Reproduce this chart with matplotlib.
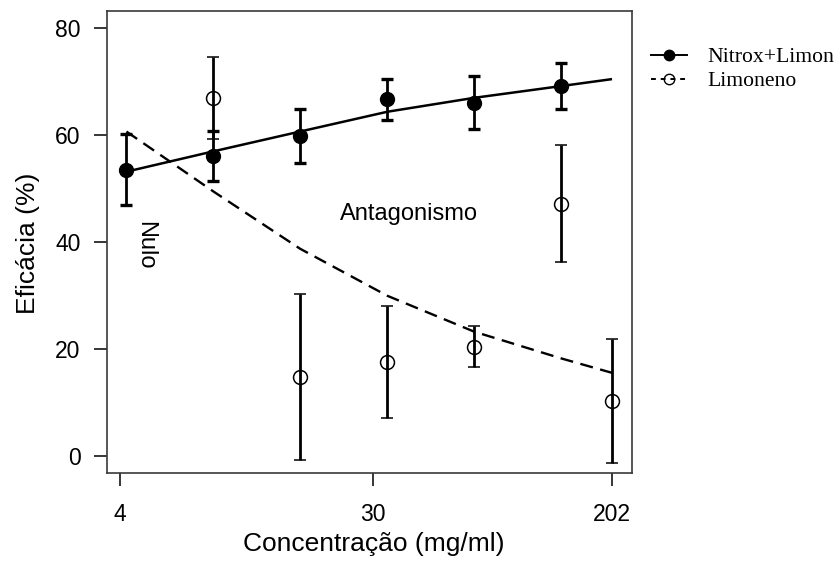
import matplotlib
matplotlib.use("Agg")
import matplotlib.pyplot as plt
from matplotlib.lines import Line2D

plt.rcParams["font.family"] = ["Liberation Sans", "DejaVu Sans"]

# Nitrox + Limoneno mixture: mean efficacy and error
nitrox_conc = [4.21, 8.42, 16.8, 33.7, 67.3, 134.7]
nitrox_eff = [53.6, 56.1, 59.9, 66.7, 66.1, 69.2]
nitrox_err = [6.6, 4.7, 5.0, 3.8, 4.9, 4.35]

# Limoneno alone
limon_conc = [8.42, 16.8, 33.7, 67.3, 134.7, 202]
limon_eff = [67.0, 14.8, 17.6, 20.5, 47.2, 10.3]
limon_err = [7.7, 15.5, 10.5, 3.9, 10.9, 11.6]

# Fitted response curves
fit_conc = [4.21, 8.42, 16.8, 33.7, 67.3, 134.7, 202]
nitrox_fit = [53.2, 57.0, 60.7, 64.4, 67.0, 69.2, 70.5]
limon_fit = [60.7, 49.5, 38.8, 30.0, 23.3, 18.3, 15.6]

x_ticks = [4, 30, 202]
y_ticks = [0, 20, 40, 60, 80]

W, H = 839, 561
fig = plt.figure(figsize=(W / 100, H / 100), dpi=100)
ax = fig.add_axes([106.7 / W, 1 - 473 / H, (631.7 - 106.7) / W, (473 - 11) / H])

ax.set_xscale("log")
ax.set_xlim(3.597, 236.3)
ax.set_ylim(-3.12, 83.23)

# fitted curves
ax.plot(fit_conc, nitrox_fit, color="black", lw=1.8, solid_capstyle="butt",
        solid_joinstyle="round")
ax.plot(fit_conc, limon_fit, color="black", lw=1.7, dashes=(5.5, 3.2),
        dash_joinstyle="round")

# observations with error bars
ax.errorbar(nitrox_conc, nitrox_eff, yerr=nitrox_err, fmt="o", color="black",
            ms=10, elinewidth=2.0, capsize=4.5, capthick=2.4)
ax.errorbar(limon_conc, limon_eff, yerr=limon_err, fmt="o", color="black",
            mfc="none", mec="black", mew=1.1, ms=10, elinewidth=2.0,
            capsize=4.5, capthick=2.4)

ax.text(40, 44.2, "Antagonismo", fontsize=17, ha="center", va="baseline")
ax.text(4.88, 39.5, "Nulo", fontsize=17, ha="center", va="center", rotation=270)

ax.set_xticks(x_ticks)
ax.set_xticklabels([str(t) for t in x_ticks])
ax.xaxis.set_minor_locator(matplotlib.ticker.NullLocator())
ax.set_yticks(y_ticks)
ax.tick_params(axis="both", direction="out", length=9.4, width=1.1,
               labelsize=16.5, color="black")
ax.tick_params(axis="x", pad=12)
ax.tick_params(axis="y", pad=9.5)

for sp in ax.spines.values():
    sp.set_linewidth(1.2)
    sp.set_color("#3a3a3a")

fig.text(27.5 / W, 1 - 243 / H, "Eficácia (%)", fontsize=19, rotation=90,
         ha="center", va="center")
fig.text(373.5 / W, 1 - 544 / H, "Concentração (mg/ml)", fontsize=19,
         ha="center", va="center")

handles = [
    Line2D([], [], color="black", lw=1.4, marker="o", ms=7.5, mfc="black"),
    Line2D([], [], color="black", lw=1.4, dashes=(2.5, 2.5), marker="o", ms=7.5,
           mfc="none", mec="black", mew=1.0),
]
fig.legend(handles, ["Nitrox+Limon", "Limoneno"], loc="upper left",
           bbox_to_anchor=(651 / W, 1 - 47 / H), frameon=False,
           borderpad=0, borderaxespad=0, handlelength=1.66, handletextpad=0.92,
           labelspacing=0.19,
           prop={"family": "Liberation Serif", "size": 15.6})

fig.savefig("out.png", dpi=100)
